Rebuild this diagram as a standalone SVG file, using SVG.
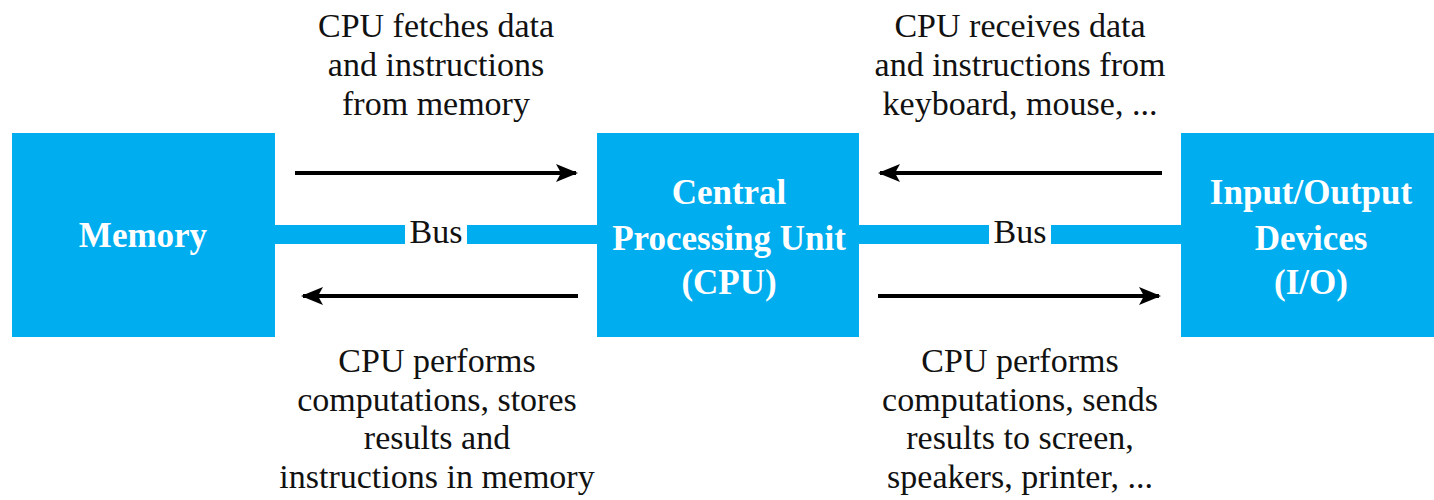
<svg xmlns="http://www.w3.org/2000/svg" width="1434" height="500" viewBox="0 0 1434 500">
  <style>
    .box { fill: #00adef; }
    .bus { fill: #00adef; }
    .label { font-family: "Liberation Serif", "Times New Roman", serif; font-weight: bold; font-size: 35px; fill: #ffffff; text-anchor: middle; }
    .note { font-family: "Liberation Serif", "Times New Roman", serif; font-size: 34px; fill: #111111; text-anchor: middle; }
    .flow { stroke: #000000; stroke-width: 4; fill: none; }
  </style>
  <defs>
    <marker id="head" viewBox="0 0 22 18" refX="20" refY="9" markerWidth="22" markerHeight="18" markerUnits="userSpaceOnUse" orient="auto">
      <path d="M0,0 L22,9 L0,18 L5,9 z" fill="#000000"/>
    </marker>
  </defs>

  <rect width="1434" height="500" fill="#ffffff"/>

  <!-- Buses between units -->
  <g id="connectors">
    <rect class="bus" x="275" y="225" width="130" height="19"/>
    <rect class="bus" x="467" y="225" width="130" height="19"/>
    <text class="note" x="436" y="243">Bus</text>
    <rect class="bus" x="859" y="225" width="130" height="19"/>
    <rect class="bus" x="1051" y="225" width="130" height="19"/>
    <text class="note" x="1020" y="243">Bus</text>

    <line class="flow" x1="295" y1="173" x2="576" y2="173" marker-end="url(#head)"/>
    <line class="flow" x1="578" y1="296" x2="303" y2="296" marker-end="url(#head)"/>
    <line class="flow" x1="1162" y1="173" x2="880" y2="173" marker-end="url(#head)"/>
    <line class="flow" x1="878" y1="296" x2="1159" y2="296" marker-end="url(#head)"/>
  </g>

  <g id="memory">
    <rect class="box" x="12" y="133" width="263" height="204"/>
    <text class="label" x="143" y="247">Memory</text>
  </g>

  <g id="cpu">
    <rect class="box" x="597" y="133" width="262" height="204"/>
    <text class="label" x="729" y="204">Central</text>
    <text class="label" x="729" y="250">Processing Unit</text>
    <text class="label" x="729" y="294">(CPU)</text>
  </g>

  <g id="io">
    <rect class="box" x="1181" y="133" width="253" height="204"/>
    <text class="label" x="1311" y="204">Input/Output</text>
    <text class="label" x="1311" y="250">Devices</text>
    <text class="label" x="1311" y="294">(I/O)</text>
  </g>

  <!-- Descriptions of each transfer -->
  <g id="fetch-note">
    <text class="note" x="436" y="37">CPU fetches data</text>
    <text class="note" x="436" y="76">and instructions</text>
    <text class="note" x="436" y="115">from memory</text>
  </g>
  <g id="store-note">
    <text class="note" x="437" y="372">CPU performs</text>
    <text class="note" x="437" y="411">computations, stores</text>
    <text class="note" x="437" y="449">results and</text>
    <text class="note" x="437" y="488">instructions in memory</text>
  </g>
  <g id="input-note">
    <text class="note" x="1020" y="37">CPU receives data</text>
    <text class="note" x="1020" y="76">and instructions from</text>
    <text class="note" x="1020" y="115">keyboard, mouse, ...</text>
  </g>
  <g id="output-note">
    <text class="note" x="1020" y="372">CPU performs</text>
    <text class="note" x="1020" y="411">computations, sends</text>
    <text class="note" x="1020" y="449">results to screen,</text>
    <text class="note" x="1020" y="488">speakers, printer, ...</text>
  </g>
</svg>
